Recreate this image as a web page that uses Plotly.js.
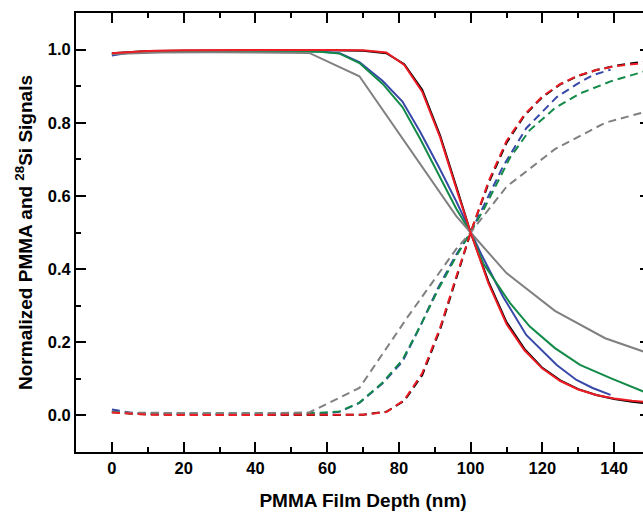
<!DOCTYPE html>
<html>
<head>
<meta charset="utf-8">
<script src="https://cdn.plot.ly/plotly-3.0.1.min.js"></script>
<style>
html,body{margin:0;padding:0;overflow:hidden;background:#fff;}
#chart{width:700px;height:512px;}
</style>
</head>
<body>
<div id="chart"></div>
<script>
// ---- data ----
const xBR = [0, 5, 10, 20, 30, 40, 50, 60, 70, 76.5, 81.5, 86.5, 91.5, 96.5, 100, 105, 110, 115, 120, 125, 130, 135, 140, 145, 150];
const blackSolid = [0.990, 0.994, 0.996, 0.997, 0.998, 0.998, 0.998, 0.998, 0.997, 0.990, 0.960, 0.890, 0.765, 0.610, 0.500, 0.365, 0.255, 0.182, 0.130, 0.096, 0.072, 0.056, 0.045, 0.037, 0.032];
const redSolid   = [0.990, 0.994, 0.996, 0.998, 0.999, 0.999, 0.999, 0.999, 0.998, 0.992, 0.958, 0.885, 0.760, 0.605, 0.500, 0.360, 0.250, 0.178, 0.128, 0.094, 0.071, 0.056, 0.046, 0.040, 0.036];
const blackDash  = [0.010, 0.005, 0.003, 0.002, 0.001, 0.001, 0.001, 0.001, 0.002, 0.010, 0.040, 0.110, 0.235, 0.390, 0.500, 0.635, 0.745, 0.820, 0.870, 0.905, 0.928, 0.944, 0.955, 0.963, 0.968];
const redDash    = [0.008, 0.004, 0.002, 0.001, 0.001, 0.001, 0.001, 0.001, 0.002, 0.009, 0.042, 0.115, 0.240, 0.395, 0.500, 0.640, 0.750, 0.822, 0.872, 0.906, 0.929, 0.944, 0.954, 0.960, 0.964];

const xBlue = [0, 5, 10, 20, 30, 40, 50, 58, 63.5, 69, 75.5, 81, 86, 91, 96, 100, 103, 109, 115.5, 124, 129.5, 134, 139];
const blueSolid = [0.984, 0.992, 0.995, 0.996, 0.997, 0.997, 0.996, 0.995, 0.990, 0.966, 0.914, 0.858, 0.774, 0.682, 0.585, 0.500, 0.440, 0.325, 0.220, 0.138, 0.097, 0.075, 0.056];
const blueDash  = [0.016, 0.008, 0.005, 0.004, 0.003, 0.003, 0.004, 0.005, 0.010, 0.034, 0.088, 0.147, 0.245, 0.350, 0.440, 0.500, 0.560, 0.680, 0.785, 0.870, 0.905, 0.930, 0.945];

const xGreen = [0, 5, 10, 20, 30, 40, 50, 58, 63.5, 69, 75.5, 81, 86, 91, 96, 100, 103.5, 111, 116.5, 123.5, 130.5, 139, 150];
const greenSolid = [0.988, 0.992, 0.994, 0.995, 0.996, 0.996, 0.995, 0.994, 0.989, 0.963, 0.906, 0.843, 0.755, 0.660, 0.565, 0.500, 0.416, 0.307, 0.243, 0.184, 0.138, 0.102, 0.058];
const greenDash  = [0.010, 0.006, 0.005, 0.005, 0.005, 0.005, 0.006, 0.007, 0.011, 0.035, 0.090, 0.152, 0.245, 0.345, 0.435, 0.500, 0.560, 0.705, 0.780, 0.840, 0.880, 0.913, 0.945];

const xGray = [0, 13.7, 27.4, 41.1, 55, 69, 82.5, 96, 100, 110, 123.5, 137.5, 151];
const graySolid = [0.988, 0.992, 0.993, 0.993, 0.991, 0.927, 0.735, 0.545, 0.500, 0.389, 0.286, 0.211, 0.165];
const grayDash  = [0.008, 0.006, 0.006, 0.006, 0.008, 0.075, 0.270, 0.455, 0.500, 0.625, 0.728, 0.800, 0.836];

const colors = {black:'#000000', red:'#ee1c24', blue:'#3848a8', green:'#128a48', gray:'#808080'};

function tr(x, y, c, dashed){
  return {x:x, y:y, type:'scatter', mode:'lines', hoverinfo:'skip',
    line:{color:c, width:2, dash: dashed ? '8px,5px' : 'solid'}};
}

const data = [
  tr(xBR, blackSolid, colors.black, false),
  tr(xBR, blackDash, colors.black, true),
  tr(xBlue, blueSolid, colors.blue, false),
  tr(xBlue, blueDash, colors.blue, true),
  tr(xGreen, greenSolid, colors.green, false),
  tr(xGreen, greenDash, colors.green, true),
  tr(xGray, graySolid, colors.gray, false),
  tr(xGray, grayDash, colors.gray, true),
  tr(xBR, redSolid, colors.red, false),
  tr(xBR, redDash, colors.red, true)
];

const fnt = {family:'"Liberation Sans", Arial, sans-serif', color:'#000', weight:'bold'};

const layout = {
  width:700, height:512,
  margin:{l:76, r:50, t:13, b:60},
  showlegend:false,
  paper_bgcolor:'#fff', plot_bgcolor:'#fff',
  font:Object.assign({size:16}, fnt),
  xaxis:{
    range:[-10,150], dtick:20, tick0:0,
    showgrid:false, zeroline:false,
    showline:true, linewidth:2, linecolor:'#000', mirror:'ticks',
    ticks:'inside', ticklen:10, tickwidth:2, tickcolor:'#000',
    minor:{dtick:10, tick0:0, ticks:'inside', ticklen:5, tickwidth:2, tickcolor:'#000', showgrid:false},
    tickfont:Object.assign({size:16.5}, fnt),
    title:{text:'PMMA Film Depth (nm)', font:Object.assign({size:19}, fnt), standoff:18}
  },
  yaxis:{
    range:[-0.1,1.1], dtick:0.2, tick0:0, tickformat:'.1f',
    showgrid:false, zeroline:false,
    showline:true, linewidth:2, linecolor:'#000', mirror:'ticks',
    ticks:'inside', ticklen:10, tickwidth:2, tickcolor:'#000',
    minor:{dtick:0.1, tick0:0, ticks:'inside', ticklen:5, tickwidth:2, tickcolor:'#000', showgrid:false},
    tickfont:Object.assign({size:16.5}, fnt),
    title:{text:'Normalized PMMA and <sup>28</sup>Si Signals', font:Object.assign({size:19}, fnt), standoff:10}
  }
};

Plotly.newPlot('chart', data, layout, {staticPlot:true, displayModeBar:false});
</script>
</body>
</html>
